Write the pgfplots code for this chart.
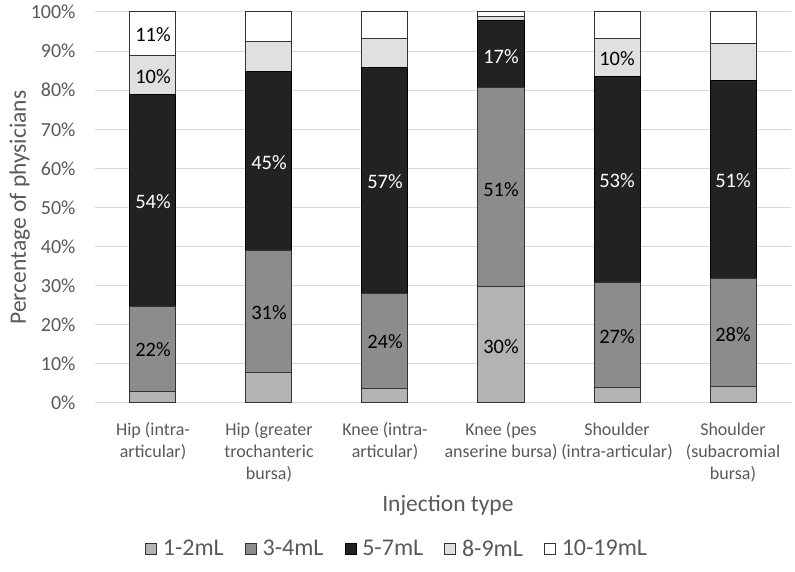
\documentclass[border=0pt]{standalone}
\usepackage{fontspec}
\setmainfont{Carlito}
\usepackage{pgfplots}
\pgfplotsset{compat=1.18}
\usepackage{pgfplotstable}

\definecolor{cA}{HTML}{B3B3B3}
\definecolor{cB}{HTML}{8C8C8C}
\definecolor{cC}{HTML}{222222}
\definecolor{cD}{HTML}{E0E0E0}
\definecolor{cE}{HTML}{FFFFFF}
\definecolor{txt}{HTML}{595959}
\definecolor{gridc}{HTML}{D9D9D9}
\definecolor{edge}{HTML}{333333}

\pgfplotstableread{
x a b c d e
0 2.9 21.7 54.2 10.0 11.2
1 7.7 31.2 46.0 7.5 7.6
2 3.8 24.3 57.7 7.3 6.9
3 29.7 50.9 17.2 1.1 1.1
4 4.0 26.7 52.9 9.7 6.7
5 4.1 27.8 50.7 9.4 8.0
}\datatable

% labels with dark text
\pgfplotstableread{
x y lab
0 94.1 11
0 83.5 10
0 13.6 22
1 23.0 31
2 15.7 24
3 54.7 51
3 14.4 30
4 88.2 10
4 16.9 27
5 17.6 28
}\darklabels

% labels with white text
\pgfplotstableread{
x y lab
0 51.5 54
1 61.5 45
2 56.6 57
3 88.7 17
4 56.8 53
5 56.8 51
}\whitelabels

\begin{document}
\begin{tikzpicture}
\begin{axis}[
  at={(0pt,0pt)}, anchor=south west,
  scale only axis, width=696pt, height=391pt,
  ybar stacked, bar width=46pt,
  xmin=-0.5, xmax=5.5, ymin=0, ymax=100,
  xtick={0,1,2,3,4,5},
  xticklabels={{Hip (intra-\\articular)},{Hip (greater\\trochanteric\\bursa)},{Knee (intra-\\articular)},{Knee (pes\\anserine bursa)},{Shoulder\\(intra-articular)},{Shoulder\\(subacromial\\bursa)}},
  xticklabel style={align=center, font=\fontsize{18}{22}\selectfont, text=txt, yshift=-16pt},
  ytick={0,10,...,100},
  yticklabel={\pgfmathprintnumber{\tick}\%},
  /pgf/number format/assume math mode=true,
  yticklabel style={font=\fontsize{20}{23}\selectfont, text=txt, xshift=-16pt},
  ymajorgrids, grid style={gridc, line width=1pt},
  axis line style={draw=none},
  tick style={draw=none},
  major tick length=0pt,
  ylabel={Percentage of physicians},
  ylabel style={at={(axis description cs:-0.108,0.5)}, anchor=center, font=\fontsize{23.5}{28}\selectfont, text=txt},
  xlabel={Injection type},
  xlabel style={at={(axis description cs:0.507,-0.263)}, anchor=center, font=\fontsize{23.5}{28}\selectfont, text=txt},
  legend columns=5,
  legend style={at={(0.434,-0.373)}, anchor=center, draw=none, fill=none,
    nodes={font=\fontsize{24}{28}\selectfont, text=txt},
    /tikz/every odd column/.append style={column sep=4pt},
    /tikz/every even column/.append style={column sep=19pt}},
  legend image code/.code={\draw[#1, line width=0.8pt] (0pt,-5.5pt) rectangle (11pt,5.5pt);},
]
\addplot[fill=cA, draw=edge, line width=1pt] table[x=x, y=a] {\datatable};
\addlegendentry{1-2mL}
\addplot[fill=cB, draw=edge, line width=1pt] table[x=x, y=b] {\datatable};
\addlegendentry{3-4mL}
\addplot[fill=cC, draw=black, line width=1pt] table[x=x, y=c] {\datatable};
\addlegendentry{5-7mL}
\addplot[fill=cD, draw=edge, line width=1pt] table[x=x, y=d] {\datatable};
\addlegendentry{8-9mL}
\addplot[fill=cE, draw=edge, line width=1pt] table[x=x, y=e] {\datatable};
\addlegendentry{10-19mL}
\end{axis}
\begin{axis}[
  at={(0pt,0pt)}, anchor=south west,
  scale only axis, width=696pt, height=391pt,
  xmin=-0.5, xmax=5.5, ymin=0, ymax=100,
  hide axis,
  /pgf/number format/assume math mode=true,
]
\addplot[draw=none, mark=none, point meta=explicit,
  nodes near coords={\pgfmathprintnumber{\pgfplotspointmeta}\%},
  every node near coord/.append style={anchor=center, font=\fontsize{20.5}{24}\selectfont, text=black}]
  table[x=x, y=y, meta=lab] {\darklabels};
\addplot[draw=none, mark=none, point meta=explicit,
  nodes near coords={\pgfmathprintnumber{\pgfplotspointmeta}\%},
  every node near coord/.append style={anchor=center, font=\fontsize{20.5}{24}\selectfont, text=white}]
  table[x=x, y=y, meta=lab] {\whitelabels};
\end{axis}
\pgfresetboundingbox
\path[use as bounding box] (-95pt,-169pt) rectangle (700pt,403pt);
\end{tikzpicture}
\end{document}
